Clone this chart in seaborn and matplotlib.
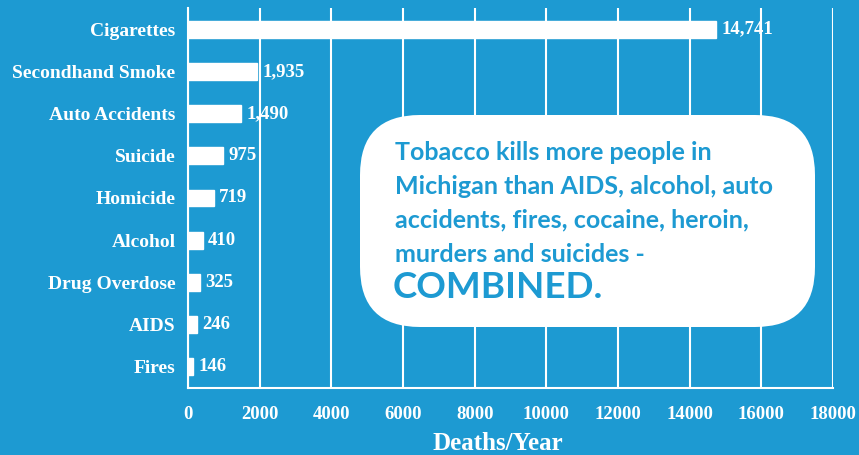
import numpy as np
import pandas as pd
import matplotlib
matplotlib.use("Agg")
import matplotlib.pyplot as plt
import seaborn as sns
from matplotlib.patches import FancyBboxPatch
from matplotlib.transforms import IdentityTransform

causes = ["Cigarettes", "Secondhand Smoke", "Auto Accidents", "Suicide", "Homicide",
          "Alcohol", "Drug Overdose", "AIDS", "Fires"]
deaths = [14741, 1935, 1490, 975, 719, 410, 325, 246, 146]
x_ticks = [0, 2000, 4000, 6000, 8000, 10000, 12000, 14000, 16000, 18000]

blue = "#1D9AD2"
data = pd.DataFrame({"cause": causes, "deaths": deaths})

sns.set_style("white")
plt.rcParams['font.family'] = ['Liberation Serif', 'DejaVu Serif']
plt.rcParams['font.weight'] = 'bold'

W, H = 859, 455
fig = plt.figure(figsize=(W / 100, H / 100), dpi=100, facecolor=blue)
ax = fig.add_axes([188 / W, 1 - 388 / H, (833 - 188) / W, (388 - 8) / H])
ax.set_facecolor(blue)

sns.barplot(data=data, x="deaths", y="cause", orient="h", color="white",
            saturation=1, width=0.4, ax=ax, zorder=3)

labels = ["{:,}".format(v) for v in deaths]
ax.bar_label(ax.containers[0], labels=labels, padding=4, color="white",
             fontsize=13.5, fontweight="bold", zorder=4)

ax.set_xlim(0, 18000)
ax.set_ylim(8.5, -0.5)
ax.set_xticks(x_ticks)
ax.set_xticklabels([str(t) for t in x_ticks], fontsize=13.5, fontweight="bold", color="white")
ax.set_yticks(range(len(causes)))
ax.set_yticklabels(causes, fontsize=14, fontweight="bold", color="white")
ax.tick_params(axis="y", length=0, pad=9)
ax.set_yticks(np.arange(-0.5, len(causes), 1), minor=True)
ax.tick_params(axis="y", which="minor", length=5, width=1.5, color="white", direction="out")
ax.tick_params(axis="x", length=5, width=1.5, color="white", direction="out", pad=8)

ax.grid(axis="x", color="white", linewidth=1.5, zorder=1)
ax.set_axisbelow(True)
for s in ["top", "right"]:
    ax.spines[s].set_visible(False)
for s in ["left", "bottom"]:
    ax.spines[s].set_color("white")
    ax.spines[s].set_linewidth(1.5)

ax.set_xlabel("Deaths/Year", fontsize=18, fontweight="bold", color="white")
ax.xaxis.set_label_coords(0.481, -0.115)
ax.set_ylabel("")

# callout box
box = FancyBboxPatch((360 + 60, H - 327 + 60), 455 - 120, 212 - 120,
                     boxstyle="round,pad=60", facecolor="white", edgecolor="none",
                     transform=IdentityTransform(), zorder=10)
fig.patches.append(box)

lines = ["Tobacco kills more people in", "Michigan than AIDS, alcohol, auto",
         "accidents, fires, cocaine, heroin,", "murders and suicides -"]
for i, line in enumerate(lines):
    fig.text(395 / W, 1 - (153 + i * 33.7) / H, line, fontsize=18, fontweight="bold",
             color=blue, family=["Lato", "DejaVu Sans"], va="center", ha="left", zorder=11)
fig.text(393 / W, 1 - 288 / H, "COMBINED.", fontsize=26.5, fontweight="bold",
         color=blue, family=["Lato", "DejaVu Sans"], va="center", ha="left", zorder=11)

fig.savefig("out.png", dpi=100, facecolor=blue)
